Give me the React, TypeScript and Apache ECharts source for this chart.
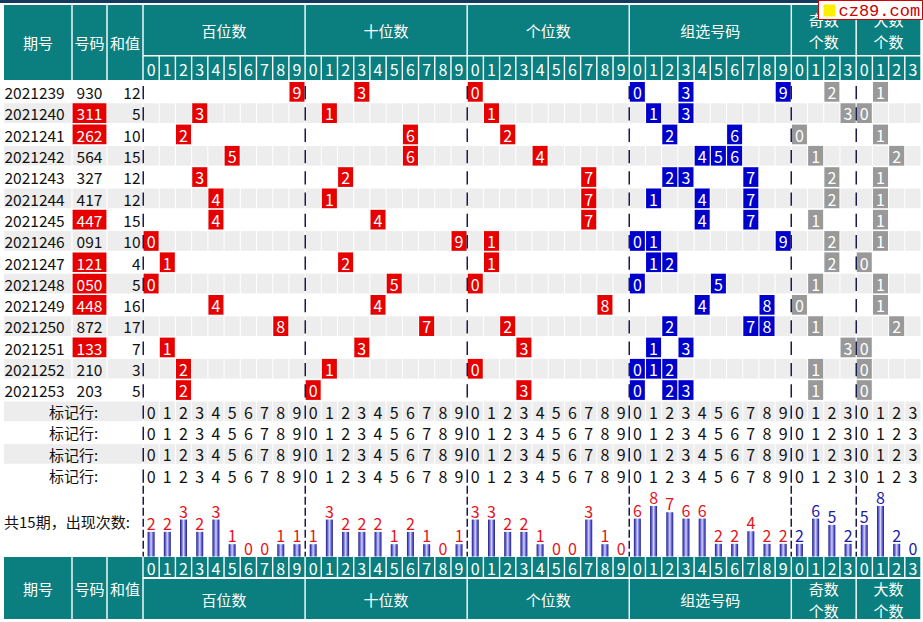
import React, { useEffect, useRef } from 'react';
import * as echarts from 'echarts';

// ---------------- data ----------------
const periods = ['2021239', '2021240', '2021241', '2021242', '2021243', '2021244', '2021245', '2021246', '2021247', '2021248', '2021249', '2021250', '2021251', '2021252', '2021253'];
const draws = ['930', '311', '262', '564', '327', '417', '447', '091', '121', '050', '448', '872', '133', '210', '203'];
const sums = [12, 5, 10, 15, 12, 12, 15, 10, 4, 5, 16, 17, 7, 3, 5];
const isGroup3 = [false, true, true, false, false, false, true, false, true, true, true, false, true, false, false];
const hundreds = [9, 3, 2, 5, 3, 4, 4, 0, 1, 0, 4, 8, 1, 2, 2];
const tens = [3, 1, 6, 6, 2, 1, 4, 9, 2, 5, 4, 7, 3, 1, 0];
const units = [0, 1, 2, 4, 7, 7, 7, 1, 1, 0, 8, 2, 3, 0, 3];
const comboDigits = [[0, 3, 9], [1, 3], [2, 6], [4, 5, 6], [2, 3, 7], [1, 4, 7], [4, 7], [0, 1, 9], [1, 2], [0, 5], [4, 8], [2, 7, 8], [1, 3], [0, 1, 2], [0, 2, 3]];
const oddCounts = [2, 3, 0, 1, 2, 2, 1, 2, 2, 1, 0, 1, 3, 1, 1];
const bigCounts = [1, 0, 1, 2, 1, 1, 1, 1, 0, 1, 1, 2, 0, 0, 0];
const hundredsFreq = [2, 2, 3, 2, 3, 1, 0, 0, 1, 1];
const tensFreq = [1, 3, 2, 2, 2, 1, 2, 1, 0, 1];
const unitsFreq = [3, 3, 2, 2, 1, 0, 0, 3, 1, 0];
const comboFreq = [6, 8, 7, 6, 6, 2, 2, 4, 2, 2];
const oddFreq = [2, 6, 5, 2];
const bigFreq = [5, 8, 2, 0];
const digitTicks = ['0', '1', '2', '3', '4', '5', '6', '7', '8', '9'];
const countTicks = ['0', '1', '2', '3'];
const groupTitles = ['百位数', '十位数', '个位数', '组选号码', '奇数\n个数', '大数\n个数'];
const leftTitles = ['期号', '号码', '和值'];
const markerLabel = '标记行:';
const markerRowCount = 4;
const summaryLabel = '共15期，出现次数:';
const watermark = 'cz89.com';

// ---------------- layout & style ----------------
const W = 923;
const H = 622;
const FONT = '"Microsoft YaHei", "Noto Sans CJK SC", sans-serif';
const TEAL = '#0b7f7f';
const RED = '#e60000';
const BLUE = '#0000cc';
const GRAYMARK = '#999999';
const ROWGRAY = '#ededed';
const DASH = '#1b1b4d';
const LABEL_RED = '#e3141b';
const LABEL_NAVY = '#1c1ca6';
const leftEdges = [4, 72, 107, 143];
const DIGIT_L = 143;
const DIGIT_RPAD = 2;
const ROW_H = 21.3;
const BODY_TOP = 81;
const TOTAL_ROWS = periods.length + markerRowCount;
const BARS_TOP = BODY_TOP + TOTAL_ROWS * ROW_H;
const BARS_BOTTOM = 556.5;

const groupSizes = [10, 10, 10, 10, 4, 4];
const groupSpans: number[][] = [];
{
  let s = 0;
  groupSizes.forEach((n) => {
    groupSpans.push([s, s + n - 1]);
    s += n;
  });
}
const groupStarts = groupSpans.map((g) => g[0]);
const columnTicks = [...digitTicks, ...digitTicks, ...digitTicks, ...digitTicks, ...countTicks, ...countTicks];
const NCOL = columnTicks.length;
const groupOf = (c: number) => groupSpans.findIndex((g) => c >= g[0] && c <= g[1]);

type Cell = { c: number; r: number; kind: number; text: string };
const tableCells: Cell[] = [];
for (let r = 0; r < periods.length; r++) {
  for (let c = 0; c < NCOL; c++) {
    const g = groupOf(c);
    const d = c - groupSpans[g][0];
    let kind = 0;
    if (g === 0 && hundreds[r] === d) kind = 1;
    if (g === 1 && tens[r] === d) kind = 1;
    if (g === 2 && units[r] === d) kind = 1;
    if (g === 3 && comboDigits[r].includes(d)) kind = 2;
    if (g === 4 && oddCounts[r] === d) kind = 3;
    if (g === 5 && bigCounts[r] === d) kind = 3;
    tableCells.push({ c, r, kind, text: kind ? String(d) : '' });
  }
}
for (let m = 0; m < markerRowCount; m++) {
  for (let c = 0; c < NCOL; c++) {
    tableCells.push({ c, r: periods.length + m, kind: 0, text: columnTicks[c] });
  }
}
const dashItems: number[][] = [];
for (let r = 0; r < TOTAL_ROWS; r++) groupStarts.forEach((c) => dashItems.push([c, r]));

type LCell = { col: number; r: number };
const leftCells: LCell[] = [];
for (let r = 0; r < periods.length; r++) for (let col = 0; col < 3; col++) leftCells.push({ col, r });
for (let m = 0; m < markerRowCount; m++) leftCells.push({ col: -1, r: periods.length + m });

const rowNames = [...periods, ...Array.from({ length: markerRowCount }, (_, i) => 'marker' + i)];
// first scale: per-position frequencies; second scale: combo / odd / big frequencies
const posFreq = [...hundredsFreq, ...tensFreq, ...unitsFreq];
const comboStart = posFreq.length;
const cntStart = comboStart + comboFreq.length;
const cntFreq = [...oddFreq, ...bigFreq];

const t = (text: string, x: number, y: number, fill: string, size: number, align = 'center', extra: any = {}) => ({
  type: 'text',
  style: { text, x, y, fill, fontSize: size, fontFamily: FONT, align, verticalAlign: 'middle', ...extra },
});
const colorOf = (k: number) => (k === 1 ? RED : k === 2 ? BLUE : GRAYMARK);

function headerDigits(params: any, api: any) {
  const c = params.dataIndex;
  const cs = params.coordSys;
  const p = api.coord([c, 0]);
  const bw = api.size([1, 0])[0];
  return {
    type: 'group',
    children: [
      { type: 'rect', shape: { x: p[0] - bw / 2 + 0.7, y: cs.y, width: bw - 1.4, height: cs.height }, style: { fill: TEAL } },
      t(columnTicks[c], p[0], cs.y + cs.height / 2 + 0.5, '#fff', 16),
    ],
  };
}
function groupHeader(params: any, api: any) {
  const cs = params.coordSys;
  const bw = api.size([1, 0])[0];
  const a = api.coord([api.value(0), 0])[0] - bw / 2;
  const b = api.coord([api.value(1), 0])[0] + bw / 2;
  return {
    type: 'group',
    children: [
      { type: 'rect', shape: { x: a + 0.7, y: cs.y, width: b - a - 1.4, height: cs.height }, style: { fill: TEAL } },
      t(groupTitles[params.dataIndex], (a + b) / 2, cs.y + cs.height / 2 + 0.5, '#fff', 15, 'center', { lineHeight: 22 }),
    ],
  };
}
function leftHeader(params: any, api: any) {
  const cs = params.coordSys;
  const a = api.coord([api.value(0), 0])[0];
  const b = api.coord([api.value(1), 0])[0];
  return {
    type: 'group',
    children: [
      { type: 'rect', shape: { x: a + (params.dataIndex === 0 ? 0 : 0.7), y: cs.y, width: b - a - (params.dataIndex === 0 ? 0.7 : 1.4), height: cs.height }, style: { fill: TEAL } },
      t(leftTitles[params.dataIndex], (a + b) / 2, cs.y + cs.height / 2, '#fff', 15),
    ],
  };
}
function tableCell(params: any, api: any) {
  const it = tableCells[params.dataIndex];
  const p = api.coord([it.c, it.r]);
  const sz = api.size([1, 1]);
  const bw = sz[0];
  const bh = sz[1];
  const x = p[0] - bw / 2;
  const y = p[1] - bh / 2;
  const children: any[] = [];
  if (it.r % 2 === 1) children.push({ type: 'rect', shape: { x: x + 0.5, y: y + 1, width: bw - 1, height: bh - 1.6 }, style: { fill: ROWGRAY } });
  if (it.kind) children.push({ type: 'rect', shape: { x: x + 0.6, y: y + 1, width: bw - 1.2, height: bh - 1.6 }, style: { fill: colorOf(it.kind) } });
  if (it.text !== '') children.push(t(it.text, p[0], p[1] + 0.5, it.kind ? '#fff' : '#111', 16));
  return { type: 'group', children };
}
function rowDash(params: any, api: any) {
  const p = api.coord([api.value(0), api.value(1)]);
  const sz = api.size([1, 1]);
  const x = Math.round(p[0] - sz[0] / 2) + 0.25;
  const y = p[1] - sz[1] / 2;
  return { type: 'line', shape: { x1: x, y1: y + 5, x2: x, y2: y + sz[1] - 3 }, style: { stroke: DASH, lineWidth: 1.5 } };
}
function barDash(params: any, api: any) {
  const cs = params.coordSys;
  const bw = api.size([1, 0])[0];
  const x = Math.round(api.coord([api.value(0), 0])[0] - bw / 2) + 0.25;
  return { type: 'line', shape: { x1: x, y1: cs.y, x2: x, y2: cs.y + cs.height }, style: { stroke: DASH, lineWidth: 1.5, lineDash: [8, 3] } };
}
function leftCell(params: any, api: any) {
  const it = leftCells[params.dataIndex];
  const bh = api.size([0, 1])[1];
  const yc = api.coord([leftEdges[0], it.r])[1];
  const y = yc - bh / 2;
  const gray = it.r % 2 === 1;
  const children: any[] = [];
  if (it.col < 0) {
    const x0 = api.coord([leftEdges[0], it.r])[0];
    const x1 = api.coord([leftEdges[3], it.r])[0];
    if (gray) children.push({ type: 'rect', shape: { x: x0, y: y + 1, width: x1 - x0 - 0.5, height: bh - 1.6 }, style: { fill: ROWGRAY } });
    children.push(t(markerLabel, (x0 + x1) / 2, yc + 0.5, '#111', 15));
  } else {
    const x0 = api.coord([leftEdges[it.col], it.r])[0];
    const x1 = api.coord([leftEdges[it.col + 1], it.r])[0];
    const red = it.col === 1 && isGroup3[it.r];
    const l = it.col === 0 ? x0 : x0 + 0.6;
    if (red || gray) children.push({ type: 'rect', shape: { x: l, y: y + 1, width: x1 - 0.6 - l, height: bh - 1.6 }, style: { fill: red ? RED : ROWGRAY } });
    if (it.col === 0) children.push(t(periods[it.r], x0 + 0.5, yc + 0.5, '#111', 15.5, 'left'));
    if (it.col === 1) children.push(t(draws[it.r], (x0 + x1) / 2, yc + 0.5, red ? '#fff' : '#111', 15.5));
    if (it.col === 2) children.push(t(String(sums[it.r]), x1 - 2.5, yc + 0.5, '#111', 15.5, 'right'));
  }
  return { type: 'group', children };
}

function buildOption(): any {
  const catX = (gridIndex: number) => ({ type: 'category', gridIndex, data: columnTicks, show: false });
  const valX = (gridIndex: number) => ({ type: 'value', gridIndex, min: leftEdges[0], max: leftEdges[3], show: false });
  const unitY = (gridIndex: number) => ({ type: 'value', gridIndex, min: 0, max: 1, show: false });
  const rowY = (gridIndex: number) => ({ type: 'category', gridIndex, data: rowNames, inverse: true, show: false });
  const barGrad = new echarts.graphic.LinearGradient(0, 0, 1, 0, [
    { offset: 0, color: '#1e1e78' },
    { offset: 0.25, color: '#6464dc' },
    { offset: 0.5, color: '#d4d4ff' },
    { offset: 0.75, color: '#6464dc' },
    { offset: 1, color: '#1e1e78' },
  ]);
  const labelStyle = (color: string) => ({ show: true, position: 'top', distance: 1, color, fontSize: 16, fontFamily: FONT });
  const barSeries = (yAxisIndex: number, from: number, values: number[], color: string) => ({
    type: 'bar', xAxisIndex: 3, yAxisIndex, silent: true, barWidth: 7, barGap: '-100%',
    data: columnTicks.map((_, i) => (i >= from && i < from + values.length ? values[i - from] : '-')),
    itemStyle: { color: barGrad }, label: labelStyle(color),
  });
  const dg = { left: DIGIT_L, right: DIGIT_RPAD };
  const lg = { left: leftEdges[0], width: leftEdges[3] - leftEdges[0] };
  return {
    animation: false,
    backgroundColor: '#fff',
    grid: [
      { ...dg, top: 5, height: 50 }, // 0 titles
      { ...dg, top: 56.5, height: 23.5 }, // 1 digit header
      { ...dg, top: BODY_TOP, height: TOTAL_ROWS * ROW_H }, // 2 table
      { ...dg, top: BARS_TOP, height: BARS_BOTTOM - BARS_TOP }, // 3 bars
      { ...dg, top: 557, height: 20 }, // 4 bottom digits
      { ...dg, top: 579, height: 40 }, // 5 bottom titles
      { ...lg, top: BODY_TOP, height: TOTAL_ROWS * ROW_H }, // 6 left table
      { ...lg, top: 5, height: 75 }, // 7 left header
      { ...lg, top: 557, height: 62 }, // 8 left footer
    ],
    xAxis: [catX(0), catX(1), catX(2), catX(3), catX(4), catX(5), valX(6), valX(7), valX(8)],
    yAxis: [
      unitY(0),
      unitY(1),
      rowY(2),
      { type: 'value', gridIndex: 3, min: 0, max: 5.75, show: false },
      { type: 'value', gridIndex: 3, min: 0, max: 11.2, show: false },
      unitY(4),
      unitY(5),
      rowY(6),
      unitY(7),
      unitY(8),
    ],
    series: [
      { type: 'custom', xAxisIndex: 0, yAxisIndex: 0, silent: true, data: groupSpans.map((g) => [g[0], g[1], 0.5]), encode: { x: [0, 1], y: 2 }, renderItem: groupHeader },
      { type: 'custom', xAxisIndex: 1, yAxisIndex: 1, silent: true, data: columnTicks.map((_, i) => [i, 0.5]), renderItem: headerDigits },
      { type: 'custom', xAxisIndex: 2, yAxisIndex: 2, silent: true, data: tableCells.map((c) => [c.c, c.r]), renderItem: tableCell },
      { type: 'custom', xAxisIndex: 2, yAxisIndex: 2, silent: true, data: dashItems, renderItem: rowDash, z: 5 },
      barSeries(3, 0, posFreq, LABEL_RED),
      barSeries(4, comboStart, comboFreq, LABEL_RED),
      barSeries(4, cntStart, cntFreq, LABEL_NAVY),
      { type: 'custom', xAxisIndex: 3, yAxisIndex: 3, silent: true, data: groupStarts.map((c) => [c, 0]), renderItem: barDash, z: 5 },
      { type: 'custom', xAxisIndex: 4, yAxisIndex: 5, silent: true, data: columnTicks.map((_, i) => [i, 0.5]), renderItem: headerDigits },
      { type: 'custom', xAxisIndex: 5, yAxisIndex: 6, silent: true, data: groupSpans.map((g) => [g[0], g[1], 0.5]), encode: { x: [0, 1], y: 2 }, renderItem: groupHeader },
      { type: 'custom', xAxisIndex: 6, yAxisIndex: 7, silent: true, data: leftCells.map((c) => [leftEdges[Math.max(c.col, 0)], c.r]), renderItem: leftCell },
      { type: 'custom', xAxisIndex: 7, yAxisIndex: 8, silent: true, data: leftTitles.map((_, i) => [leftEdges[i], leftEdges[i + 1], 0.5]), encode: { x: [0, 1], y: 2 }, renderItem: leftHeader },
      { type: 'custom', xAxisIndex: 8, yAxisIndex: 9, silent: true, data: leftTitles.map((_, i) => [leftEdges[i], leftEdges[i + 1], 0.5]), encode: { x: [0, 1], y: 2 }, renderItem: leftHeader },
    ],
    graphic: [
      { type: 'rect', z: 100, shape: { x: 0, y: 0, width: W, height: 3 }, style: { fill: '#163a5e' } },
      { type: 'text', z: 100, x: 4, y: (BARS_TOP + BARS_BOTTOM) / 2, style: { text: summaryLabel, fill: '#111', fontSize: 15, fontFamily: FONT, verticalAlign: 'middle' } },
      { type: 'rect', z: 200, shape: { x: 818.5, y: 0.5, width: 104, height: 19 }, style: { fill: '#fff', stroke: '#d00000', lineWidth: 1 } },
      { type: 'rect', z: 201, shape: { x: 823.5, y: 4.5, width: 12, height: 12 }, style: { fill: '#ffee00' } },
      { type: 'text', z: 202, x: 838.5, y: 11, style: { text: watermark, fill: '#cc0000', fontSize: 17, fontFamily: '"Liberation Mono", "DejaVu Sans Mono", monospace', verticalAlign: 'middle' } },
    ],
  };
}

export default function App() {
  const ref = useRef<HTMLDivElement>(null);
  useEffect(() => {
    if (!ref.current) return;
    const chart = echarts.init(ref.current, null, { renderer: 'svg' });
    chart.setOption(buildOption());
    return () => chart.dispose();
  }, []);
  return <div ref={ref} style={{ position: 'fixed', left: 0, top: 0, width: W, height: H, background: '#fff' }} />;
}
